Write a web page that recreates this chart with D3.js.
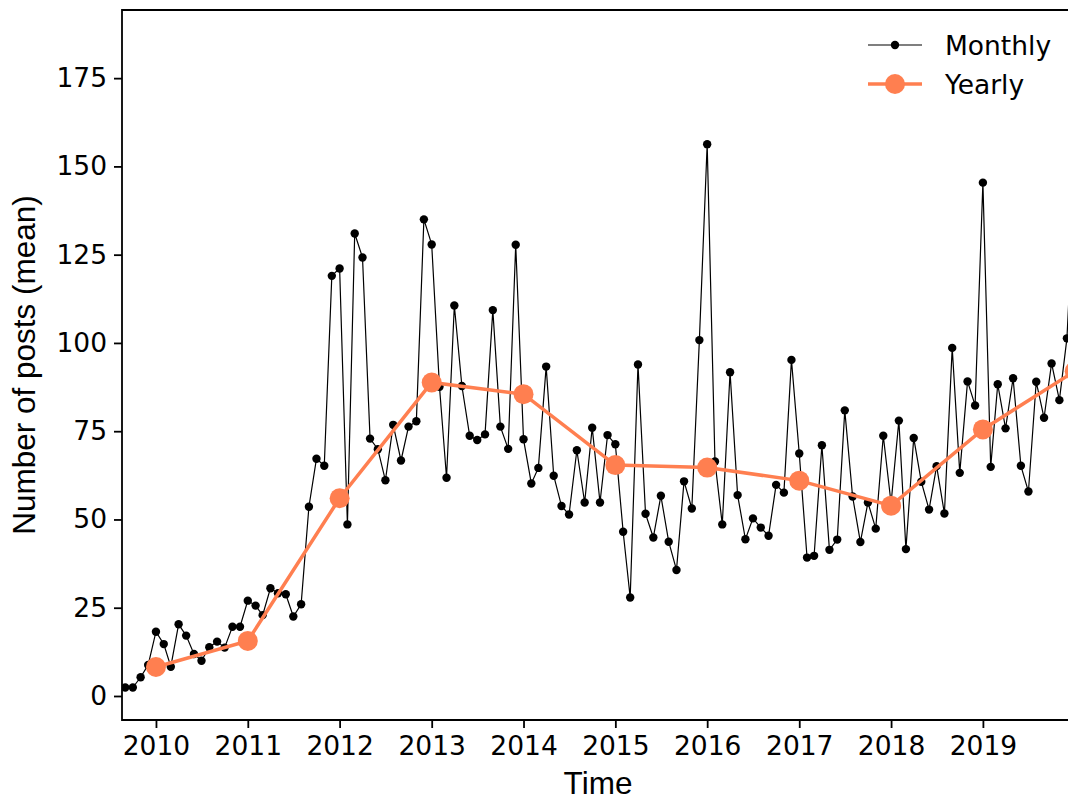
<!DOCTYPE html>
<html>
<head>
<meta charset="utf-8">
<script src="https://cdn.jsdelivr.net/npm/d3@7"></script>
<style>
  body { margin: 0; background: #fff; }
  .tick text { font-family: "DejaVu Sans", sans-serif; }
</style>
</head>
<body>
<div id="chart"></div>
<script>
// monthly means, starting Sep 2009
var monthStart = [2009, 8];
var monthly = [
  2.4, 2.4, 5.3, 8.8,
  18.2, 14.7, 8.3, 20.3, 17.1, 11.9, 10.0, 13.8, 15.4, 13.7, 19.6, 19.6,
  27.0, 25.6, 22.9, 30.5, 29.1, 28.8, 22.5, 26.0, 53.6, 67.2, 65.2, 119.0,
  121.1, 48.6, 131.0, 124.2, 72.9, 69.9, 61.1, 76.8, 66.7, 76.3, 77.8, 135.0,
  127.9, 87.6, 61.8, 110.6, 87.8, 73.7, 72.5, 74.1, 109.3, 76.3, 70.0, 127.8,
  72.7, 60.2, 64.6, 93.3, 62.4, 53.8, 51.4, 69.6, 54.8, 76.0, 54.8, 73.9,
  71.3, 46.5, 27.9, 93.9, 51.6, 44.9, 56.7, 43.7, 35.7, 60.8, 53.1, 100.8,
  156.3, 66.4, 48.6, 91.7, 56.9, 44.4, 50.3, 47.7, 45.4, 59.8, 57.6, 95.2,
  68.7, 39.2, 39.7, 71.0, 41.4, 44.3, 80.9, 56.5, 43.6, 54.8, 47.4, 73.7,
  54.6, 78.0, 41.6, 73.1, 60.7, 52.8, 65.1, 51.7, 98.6, 63.2, 89.1, 82.3,
  145.4, 64.9, 88.3, 75.8, 90.0, 65.2, 57.9, 89.0, 78.8, 94.2, 83.8, 101.3,
  146.0
];

var years = [2010, 2011, 2012, 2013, 2014, 2015, 2016, 2017, 2018, 2019, 2020];
var yearly = [8.2, 15.6, 56.0, 88.8, 85.5, 65.4, 64.7, 61.0, 53.9, 75.5, 92.0];

var yTicks = [0, 25, 50, 75, 100, 125, 150, 175];
var xTickYears = [2010, 2011, 2012, 2013, 2014, 2015, 2016, 2017, 2018, 2019];

var svgWidth = 1068;
var svgHeight = 802;

var margin = {top: 10, left: 122, bottom: 82};
var plotRight = 1078;   // axes run past the right edge of the picture
var width = plotRight - margin.left;
var height = svgHeight - margin.top - margin.bottom;

var fontTick = 26.5;

var monthlyData = monthly.map(function(v, i) {
  return {date: d3.timeMonth.offset(new Date(monthStart[0], monthStart[1], 1), i), value: v};
});
var yearlyData = years.map(function(y, i) {
  return {date: new Date(y, 0, 1), value: yearly[i]};
});

var svg = d3.select("#chart")
  .append("svg")
  .attr("width", svgWidth)
  .attr("height", svgHeight);

var chartGroup = svg.append("g")
  .attr("transform", `translate(${margin.left}, ${margin.top})`);

var xScale = d3.scaleTime()
  .domain([new Date(2009, 7, 19), new Date(2020, 0, 14)])
  .range([0, width]);

var yScale = d3.scaleLinear()
  .domain([-6.8, 194.3])
  .range([height, 0]);

chartGroup.append("clipPath").attr("id", "clip")
  .append("rect").attr("width", width).attr("height", height);

// axes
var bottomAxis = d3.axisBottom(xScale)
  .tickValues(xTickYears.map(function(y) { return new Date(y, 0, 1); }))
  .tickFormat(d3.timeFormat("%Y"))
  .tickSize(8).tickPadding(7);
var leftAxis = d3.axisLeft(yScale)
  .tickValues(yTicks)
  .tickSize(8).tickPadding(7);

var gx = chartGroup.append("g")
  .attr("transform", `translate(0, ${height})`)
  .call(bottomAxis);
var gy = chartGroup.append("g")
  .call(leftAxis);

[gx, gy].forEach(function(g) {
  g.select(".domain").remove();
  g.selectAll(".tick line").attr("stroke", "#000").attr("stroke-width", 1.8);
  g.selectAll(".tick text").attr("font-size", fontTick).attr("fill", "#000");
});
gx.selectAll(".tick text").attr("dy", "0.76em");

// spines (left, bottom, top)
chartGroup.append("path")
  .attr("d", `M${width},0H0V${height}H${width}`)
  .attr("fill", "none")
  .attr("stroke", "#000")
  .attr("stroke-width", 1.8);

var plot = chartGroup.append("g").attr("clip-path", "url(#clip)");

var line = d3.line()
  .x(d => xScale(d.date))
  .y(d => yScale(d.value));

// monthly series
plot.append("path")
  .datum(monthlyData)
  .attr("d", line)
  .attr("fill", "none")
  .attr("stroke", "#000")
  .attr("stroke-width", 1.2);

plot.selectAll(".mdot")
  .data(monthlyData)
  .enter()
  .append("circle")
  .attr("class", "mdot")
  .attr("cx", d => xScale(d.date))
  .attr("cy", d => yScale(d.value))
  .attr("r", 4.2)
  .attr("fill", "#000");

// yearly series
plot.append("path")
  .datum(yearlyData)
  .attr("d", line)
  .attr("fill", "none")
  .attr("stroke", "coral")
  .attr("stroke-width", 3.5);

plot.selectAll(".ydot")
  .data(yearlyData)
  .enter()
  .append("circle")
  .attr("class", "ydot")
  .attr("cx", d => xScale(d.date))
  .attr("cy", d => yScale(d.value))
  .attr("r", 10)
  .attr("fill", "coral");

// legend
var legend = svg.append("g").attr("transform", "translate(868, 45)");
legend.append("line").attr("x1", 0).attr("x2", 54).attr("y1", 0).attr("y2", 0)
  .attr("stroke", "#000").attr("stroke-width", 1.2);
legend.append("circle").attr("cx", 27).attr("cy", 0).attr("r", 4.2).attr("fill", "#000");
legend.append("text").attr("x", 77).attr("y", 0).attr("dy", "0.36em")
  .attr("font-family", "DejaVu Sans").attr("font-size", fontTick).text("Monthly");

legend.append("line").attr("x1", 0).attr("x2", 54).attr("y1", 39).attr("y2", 39)
  .attr("stroke", "coral").attr("stroke-width", 3.5);
legend.append("circle").attr("cx", 27).attr("cy", 39).attr("r", 10).attr("fill", "coral");
legend.append("text").attr("x", 77).attr("y", 39).attr("dy", "0.36em")
  .attr("font-family", "DejaVu Sans").attr("font-size", fontTick).text("Yearly");

// axis labels
svg.append("text")
  .attr("transform", `translate(35, ${margin.top + height / 2}) rotate(-90)`)
  .attr("text-anchor", "middle")
  .attr("font-family", "Liberation Sans, Arial, sans-serif")
  .attr("font-size", 31.5)
  .text("Number of posts (mean)");

svg.append("text")
  .attr("x", 598)
  .attr("y", 794)
  .attr("text-anchor", "middle")
  .attr("font-family", "Liberation Sans, Arial, sans-serif")
  .attr("font-size", 31.5)
  .text("Time");
</script>
</body>
</html>
